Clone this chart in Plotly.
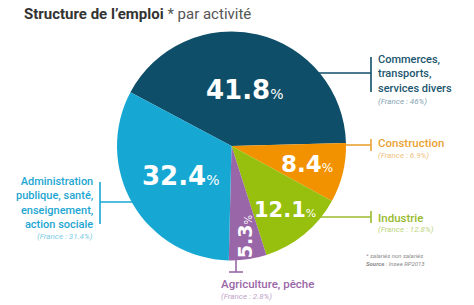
import math
import plotly.graph_objects as go

W, H = 474, 305

# ---- data ----
categories = ["Commerces, transports, services divers", "Construction", "Industrie",
              "Agriculture, pêche", "Administration publique, santé, enseignement, action sociale"]
values = [41.8, 8.4, 12.1, 5.3, 32.4]
france = ["46%", "6.9%", "12.8%", "2.8%", "31.4%"]
label_lines = [["Commerces,", "transports,", "services divers"],
               ["Construction"],
               ["Industrie"],
               ["Agriculture, pêche"],
               ["Administration", "publique, santé,", "enseignement,", "action sociale"]]

slice_colors = ["#0f4e68", "#f39200", "#97bf0d", "#9966a8", "#17a7d3"]
text_colors = ["#1b566f", "#e9a233", "#98ba2e", "#9a68a8", "#1ea6d2"]
france_colors = ["#86a5b3", "#efc27d", "#bdd47e", "#c0a2c9", "#7ccbe5"]

ROT = -62
CX, CY, R = 231.5, 146, 114.5


def px(x):
    return x / W


def py(y):
    return 1 - y / H


fig = go.Figure()
fig.add_trace(go.Pie(
    values=values, labels=categories, sort=False, direction="clockwise",
    rotation=ROT, marker=dict(colors=slice_colors, line=dict(width=0)),
    textinfo="none", hoverinfo="label+value", showlegend=False,
    domain=dict(x=[px(CX - R), px(CX + R)], y=[py(CY + R), py(CY - R)]),
))

shapes = []


def line(x0, y0, x1, y1, color, w=1.6):
    shapes.append(dict(type="line", xref="paper", yref="paper",
                       x0=px(x0), y0=py(y0), x1=px(x1), y1=py(y1),
                       line=dict(color=color, width=w), layer="below"))


annotations = []


def ann(text, x, y, size, color, xanchor="left", yanchor="middle", weight=400,
        italic=False, family="Roboto", angle=0, align="left"):
    annotations.append(dict(
        text=text, x=px(x), y=py(y), xref="paper", yref="paper",
        xanchor=xanchor, yanchor=yanchor, showarrow=False, textangle=angle,
        align=align, borderpad=0,
        font=dict(size=size, color=color, family=family, weight=weight,
                  style="italic" if italic else "normal")))


# Title
ann("<b>Structure de l’emploi</b> <span style='color:#555555'>* par activité</span>",
    23, 14, 15, "#333333")

# percentages inside slices (placed at slice mid-angles)
radius_frac = [0.50, 0.68, 0.73, 0.80, 0.52]
font_sizes = [26, 23, 21, 19, 26]
cum = 0
for i, v in enumerate(values):
    mid = ROT + (cum + v / 2) / sum(values) * 360
    cum += v
    a = math.radians(mid)
    x = CX + radius_frac[i] * R * math.sin(a)
    y = CY - radius_frac[i] * R * math.cos(a)
    big = font_sizes[i]
    txt = f"{v}<span style='font-size:{int(big*0.55)}px;font-weight:400'>%</span>"
    ann(txt, x, y, big, "white", xanchor="center", weight=700,
        family="DejaVu Sans", angle=-90 if i == 3 else 0)

# Commerce label
line(315, 73, 371, 73, slice_colors[0])
line(371, 57, 371, 92, slice_colors[0])
ann("<br>".join(label_lines[0]), 377, 74, 11, text_colors[0], weight=500)
ann(f"(France : {france[0]})", 377, 101, 8, france_colors[0], italic=True)

# Construction label
line(340, 145, 371, 145, text_colors[1])
line(371, 139, 371, 151, text_colors[1])
ann(label_lines[1][0], 377, 143, 11.5, text_colors[1], weight=500)
ann(f"(France : {france[1]})", 377, 155, 8, france_colors[1], italic=True)

# Industrie label
line(316, 217, 371, 217, text_colors[2])
line(371, 211, 371, 223, text_colors[2])
ann(label_lines[2][0], 377, 218, 11.5, text_colors[2], weight=500)
ann(f"(France : {france[2]})", 377, 230, 8, france_colors[2], italic=True)

# Administration label
line(100, 202, 136, 202, slice_colors[4])
line(100, 182, 100, 224, slice_colors[4])
ann("<br>".join(label_lines[4]), 94, 203, 11, text_colors[4], xanchor="right",
    weight=500, align="right")
ann(f"(France : {france[4]})", 94, 236, 8, france_colors[4], xanchor="right", italic=True)

# Agriculture label
line(236, 255, 236, 272, text_colors[3])
line(229, 272, 243, 272, text_colors[3])
ann(label_lines[3][0], 220, 284, 11.5, text_colors[3], weight=500)
ann(f"(France : {france[3]})", 220, 296, 8, france_colors[3], italic=True)

# Footnote
ann("* salariés non salariés", 365, 255, 6, "#8a8a8a", italic=True)
ann("<b>Source</b> : Insee RP2013", 365, 263, 6, "#8a8a8a", italic=True)

fig.update_layout(
    width=W, height=H, margin=dict(l=0, r=0, t=0, b=0),
    paper_bgcolor="white", plot_bgcolor="white",
    shapes=shapes, annotations=annotations,
)

fig.write_html("out.html")
